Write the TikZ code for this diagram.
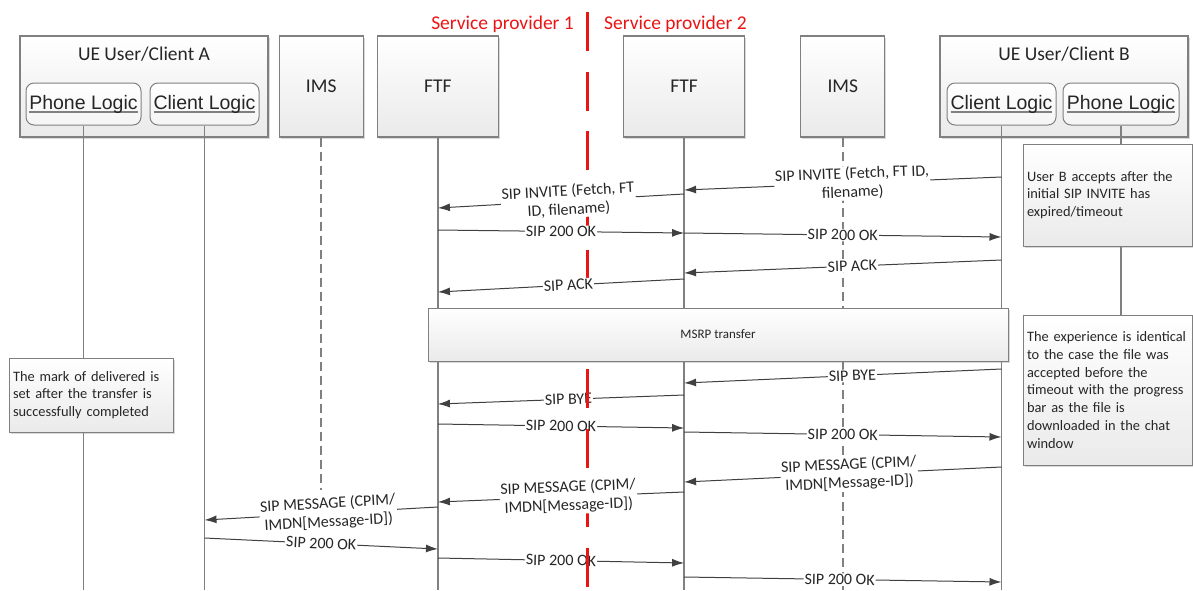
\documentclass[tikz,border=0pt]{standalone}
\usepackage{fontspec}
\setmainfont{Carlito}
\newfontfamily\arialfont{Liberation Sans}
\usepackage{tikz}
\usetikzlibrary{shapes,arrows.meta,positioning,calc,shadows}

\definecolor{linegray}{RGB}{128,128,128}
\definecolor{arrowgray}{RGB}{64,64,64}
\definecolor{textgray}{RGB}{38,38,38}
\definecolor{boxbottom}{RGB}{234,234,234}
\definecolor{sepred}{RGB}{235,20,20}

\newcommand{\ulname}[1]{\leavevmode\setbox0\hbox{#1}\rlap{\color{linegray}\rule[-3.5pt]{\wd0}{1.6pt}}\box0}

\begin{document}
\begin{tikzpicture}[x=1pt, y=-1pt,
    headbox/.style={draw=linegray, line width=1.2pt, top color=white, bottom color=boxbottom,
      drop shadow={shadow xshift=1.5pt, shadow yshift=-1.5pt, opacity=0.3},
      minimum height=101pt, inner sep=0pt, text=textgray, font=\fontsize{19.5}{22}\selectfont},
    headtext/.style={text=textgray, inner sep=0pt, font=\fontsize{19.5}{22}\selectfont},
    logicbox/.style={draw=linegray, line width=1pt, rounded corners=8pt, top color=white,
      bottom color=boxbottom!50, minimum height=42pt, inner sep=0pt, text=textgray,
      font=\arialfont\fontsize{19.5}{22}\selectfont},
    notebox/.style={draw=linegray, line width=1pt, top color=white, bottom color=boxbottom,
      drop shadow={shadow xshift=1.5pt, shadow yshift=-1.5pt, opacity=0.3},
      inner xsep=4pt, align=left, text=textgray, font=\fontsize{14.4}{17.8}\selectfont,
      execute at begin node={\hyphenpenalty=10000\relax}},
    msrpbox/.style={draw=linegray, line width=1pt, top color=white, bottom color=boxbottom,
      drop shadow={shadow xshift=1.5pt, shadow yshift=-1.5pt, opacity=0.3},
      minimum width=580pt, minimum height=53pt, text=textgray, font=\fontsize{13}{15}\selectfont},
    lifeline/.style={draw=linegray, line width=1.3pt},
    imsline/.style={lifeline, line width=1.5pt, dash pattern=on 9pt off 5pt},
    msg/.style={draw=arrowgray, line width=1pt, -{Latex[length=12pt,width=8pt]}},
    msglabel/.style={fill=white, sloped, inner sep=1pt, align=center, text=textgray,
      font=\fontsize{16}{18.5}\selectfont},
    splitline/.style={draw=sepred, line width=3pt},
    providertext/.style={text=sepred, inner sep=0pt, font=\fontsize{19.5}{22}\selectfont}]

  \useasboundingbox (0,0) rectangle (1193,590);

  % border between the two providers
  \draw[splitline, dash pattern=on 39pt off 20.5pt] (587,12) -- (587,590);
  \node[providertext, anchor=east] (spone) at (574,24) {Service provider 1};
  \node[providertext, anchor=west] (sptwo) at (604,24) {Service provider 2};

  % participants
  \node[headbox, minimum width=248pt] (clientA) at (144,86.5) {};
  \node[headbox, minimum width=84pt, right=10pt of clientA] (imsA) {IMS};
  \node[headbox, minimum width=121pt, right=13pt of imsA] (ftfA) {FTF};
  \node[headbox, minimum width=121pt, right=124pt of ftfA] (ftfB) {FTF};
  \node[headbox, minimum width=84pt, right=55pt of ftfB] (imsB) {IMS};
  \node[headbox, minimum width=248pt, right=54pt of imsB] (clientB) {};

  \node[headtext] (clientAtitle) at (144,54) {UE User/Client A};
  \node[headtext] (clientBtitle) at (1064,54) {UE User/Client B};
  \node[logicbox, minimum width=115pt] (phoneA) at (83.5,104) {\ulname{Phone Logic}};
  \node[logicbox, minimum width=109pt] (cLogicA) at (204.5,104) {\ulname{Client Logic}};
  \node[logicbox, minimum width=109pt] (cLogicB) at (1001.5,104) {\ulname{Client Logic}};
  \node[logicbox, minimum width=116pt] (phoneB) at (1121,104) {\ulname{Phone Logic}};

  % notes
  \node[notebox, text width=156pt, minimum height=74pt] (noteA) at (91,395)
    {The mark of delivered is\\set after the transfer is\\successfully completed};
  \node[notebox, text width=161pt, minimum height=102pt] (noteBone) at (1107.5,195)
    {User B accepts after the\\initial SIP INVITE has\\expired/timeout};
  \node[notebox, text width=161pt, minimum height=150pt] (noteBtwo) at (1107.5,390)
    {The experience is identical\\to the case the file was\\accepted before the\\timeout with the progress\\bar as the file is\\downloaded in the chat\\window};

  % lifelines
  \coordinate (bottom) at (0,590);
  \coordinate (imsAend) at (0,490);
  \draw[lifeline] (phoneA.south) -- (phoneA |- noteA.north);
  \draw[lifeline] (phoneA |- noteA.south) -- (phoneA |- bottom);
  \draw[lifeline] (cLogicA.south) -- (cLogicA |- bottom);
  \draw[imsline] (imsA.south) -- (imsA |- imsAend);
  \draw[lifeline] (ftfA.south) -- (ftfA |- bottom);
  \draw[lifeline] (ftfB.south) -- (ftfB |- bottom);
  \draw[imsline] (imsB.south) -- (imsB |- bottom);
  \draw[lifeline] (cLogicB.south) -- (cLogicB |- bottom);
  \draw[lifeline] (phoneB.south) -- (phoneB |- noteBone.north);
  \draw[lifeline] (phoneB |- noteBone.south) -- (phoneB |- noteBtwo.north);

  \node[msrpbox] (msrp) at (718,334.5) {MSRP transfer};

  % messages
  \draw[msg] (cLogicB |- 0,177) -- node[msglabel, pos=.47] {SIP INVITE (Fetch, FT ID,\\filename)} (ftfB |- 0,190);
  \draw[msg] (ftfB |- 0,194) -- node[msglabel, pos=.47] {SIP INVITE (Fetch, FT\\ID, filename)} (ftfA |- 0,208);
  \draw[msg] (ftfA |- 0,230) -- node[msglabel, pos=.5] {SIP 200 OK} (ftfB |- 0,233);
  \draw[msg] (ftfB |- 0,233) -- node[msglabel, pos=.5] {SIP 200 OK} (cLogicB |- 0,237);
  \draw[msg] (cLogicB |- 0,260) -- node[msglabel, pos=.47] {SIP ACK} (ftfB |- 0,273);
  \draw[msg] (ftfB |- 0,279) -- node[msglabel, pos=.47] {SIP ACK} (ftfA |- 0,292);

  \draw[msg] (cLogicB |- 0,369) -- node[msglabel, pos=.47] {SIP BYE} (ftfB |- 0,383);
  \draw[msg] (ftfB |- 0,395) -- node[msglabel, pos=.47] {SIP BYE} (ftfA |- 0,404);
  \draw[msg] (ftfA |- 0,424) -- node[msglabel, pos=.5] {SIP 200 OK} (ftfB |- 0,428);
  \draw[msg] (ftfB |- 0,432) -- node[msglabel, pos=.5] {SIP 200 OK} (cLogicB |- 0,437);
  \draw[msg] (cLogicB |- 0,467) -- node[msglabel, pos=.48] {SIP MESSAGE (CPIM/\\IMDN[Message-ID])} (ftfB |- 0,482);
  \draw[msg] (ftfB |- 0,492) -- node[msglabel, pos=.47] {SIP MESSAGE (CPIM/\\IMDN[Message-ID])} (ftfA |- 0,502);
  \draw[msg] (ftfA |- 0,507) -- node[msglabel, pos=.47] {SIP MESSAGE (CPIM/\\IMDN[Message-ID])} (cLogicA |- 0,520);
  \draw[msg] (cLogicA |- 0,538) -- node[msglabel, pos=.5] {SIP 200 OK} (ftfA |- 0,549);
  \draw[msg] (ftfA |- 0,558) -- node[msglabel, pos=.5] {SIP 200 OK} (ftfB |- 0,563);
  \draw[msg] (ftfB |- 0,577) -- node[msglabel, pos=.49] {SIP 200 OK} (cLogicB |- 0,582);

  % border dashes that lie over the lower labels
  \draw[splitline] (587,369) -- (587,408) (587,428.5) -- (587,467.5) (587,547.5) -- (587,586.5);
\end{tikzpicture}
\end{document}
